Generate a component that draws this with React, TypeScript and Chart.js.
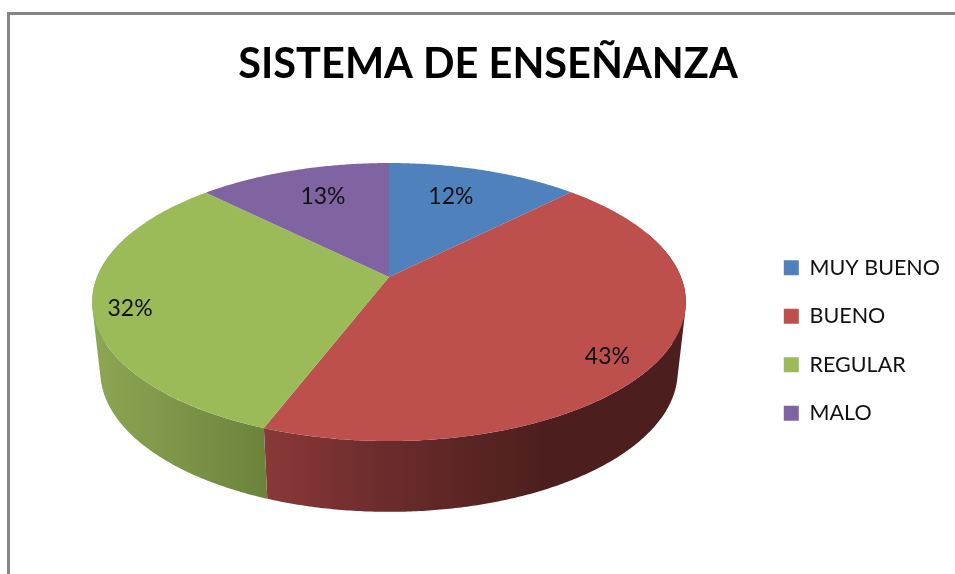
import React, { useEffect, useRef } from "react";
import { Chart, registerables } from "chart.js";

Chart.register(...registerables);

const categories = ["MUY BUENO", "BUENO", "REGULAR", "MALO"];
const seriesValues = [12.4, 43.4, 31.7, 12.5];
const faceColors = ["#4f81bd", "#bd4f4d", "#9bbb59", "#8064a2"];
const title = "SISTEMA DE ENSEÑANZA";

const FONT = "Lato, Carlito, sans-serif";
const labelRadius = [0.707, 0.863, 0.88, 0.7135];
const labelTurnDeg = [-2.7, 5.7, -2.6, 1.7];

const persp = { cx: 389, cy: 277, a: 292, b: 134.5, k: 0.18, a2: 284, b2: 136, cy2: 346 };

function project(theta: number, r = 1, bottom = false) {
  const u = Math.sin(theta) * r;
  const v = Math.cos(theta) * r;
  const w = 1 + persp.k * v;
  return {
    x: persp.cx + ((bottom ? persp.a2 : persp.a) * u) / w,
    y: (bottom ? persp.cy2 : persp.cy) - ((bottom ? persp.b2 : persp.b) * v) / w,
  };
}

const DEG = Math.PI / 180;

const pie3d = {
  id: "pie3d",
  beforeDatasetsDraw(chart: any) {
    const ctx = chart.ctx as CanvasRenderingContext2D;
    const arcs = chart.getDatasetMeta(0).data;
    const ranges = arcs.map((arc: any) => {
      const p = arc.getProps(["startAngle", "endAngle"], true);
      return [p.startAngle + Math.PI / 2, p.endAngle + Math.PI / 2];
    });

    ctx.save();
    // side wall: one outward quad per angular step, so the wall's silhouette is tangent to both rims
    const front0 = 70 * DEG;
    const front1 = 290 * DEG;
    ranges.forEach(([s, e]: number[], i: number) => {
      const a = Math.max(s, front0);
      const b = Math.min(e, front1);
      if (b <= a) return;
      let grad: CanvasGradient | string = "#555";
      if (i === 1) {
        grad = ctx.createLinearGradient(265, 0, 545, 0);
        grad.addColorStop(0, "#8a3838");
        grad.addColorStop(0.45, "#6a2b2b");
        grad.addColorStop(1, "#4c1f1e");
      } else if (i === 2) {
        grad = ctx.createLinearGradient(95, 0, 265, 0);
        grad.addColorStop(0, "#8ca653");
        grad.addColorStop(1, "#6c833c");
      }
      ctx.beginPath();
      const steps = Math.ceil((b - a) / (0.5 * DEG));
      for (let j = 0; j < steps; j++) {
        const t0 = a + ((b - a) * j) / steps;
        const t1 = a + ((b - a) * (j + 1)) / steps;
        let pts = [project(t0), project(t1), project(t1, 1, true), project(t0, 1, true)];
        let area = 0;
        pts.forEach((p, n) => {
          const q = pts[(n + 1) % 4];
          area += p.x * q.y - q.x * p.y;
        });
        if (area < 0) pts = pts.reverse();
        pts.forEach((p, n) => (n === 0 ? ctx.moveTo(p.x, p.y) : ctx.lineTo(p.x, p.y)));
        ctx.closePath();
      }
      ctx.fillStyle = grad;
      ctx.fill("nonzero");
    });
    // top face
    ranges.forEach(([s, e]: number[], i: number) => {
      ctx.beginPath();
      ctx.moveTo(persp.cx, persp.cy);
      const steps = Math.ceil((e - s) / (0.5 * DEG));
      for (let j = 0; j <= steps; j++) {
        const p = project(s + ((e - s) * j) / steps);
        ctx.lineTo(p.x, p.y);
      }
      ctx.closePath();
      ctx.fillStyle = faceColors[i];
      ctx.fill();
    });
    // value labels
    ctx.fillStyle = "#111";
    ctx.font = `23px ${FONT}`;
    ctx.textAlign = "center";
    ctx.textBaseline = "middle";
    ranges.forEach(([s, e]: number[], i: number) => {
      const p = project((s + e) / 2 + labelTurnDeg[i] * DEG, labelRadius[i]);
      ctx.fillText(`${Math.round(seriesValues[i])}%`, p.x, p.y);
    });
    ctx.restore();
    return false;
  },
  afterDraw(chart: any) {
    const ctx = chart.ctx as CanvasRenderingContext2D;
    ctx.save();
    ctx.strokeStyle = "#868686";
    ctx.lineWidth = 3;
    ctx.strokeRect(8.5, 13.5, 1200, 800);
    ctx.restore();
  },
};

export default function App() {
  const ref = useRef<HTMLCanvasElement>(null);
  useEffect(() => {
    const chart = new Chart(ref.current!, {
      type: "pie",
      data: {
        labels: categories,
        datasets: [{ data: seriesValues, backgroundColor: faceColors, borderWidth: 0 }],
      },
      options: {
        animation: false,
        responsive: false,
        layout: { padding: { right: 5, bottom: 0, top: 0, left: 26 } },
        plugins: {
          title: {
            display: true,
            text: title,
            color: "#000",
            font: { family: FONT, size: 41.5, weight: "bold" },
            padding: { top: 40, bottom: 17 },
          },
          legend: {
            position: "right",
            fullSize: false,
            labels: {
              color: "#111",
              font: { family: FONT, size: 21.5 },
              boxWidth: 15,
              boxHeight: 15,
              padding: 27,
            },
          },
          tooltip: { enabled: false },
        },
      },
      plugins: [pie3d],
    } as any);
    return () => chart.destroy();
  }, []);
  return (
    <div style={{ position: "fixed", left: 0, top: 0, width: 955, height: 574, overflow: "hidden", background: "#fff" }}>
      <canvas ref={ref} width={955} height={574} style={{ display: "block" }} />
    </div>
  );
}
